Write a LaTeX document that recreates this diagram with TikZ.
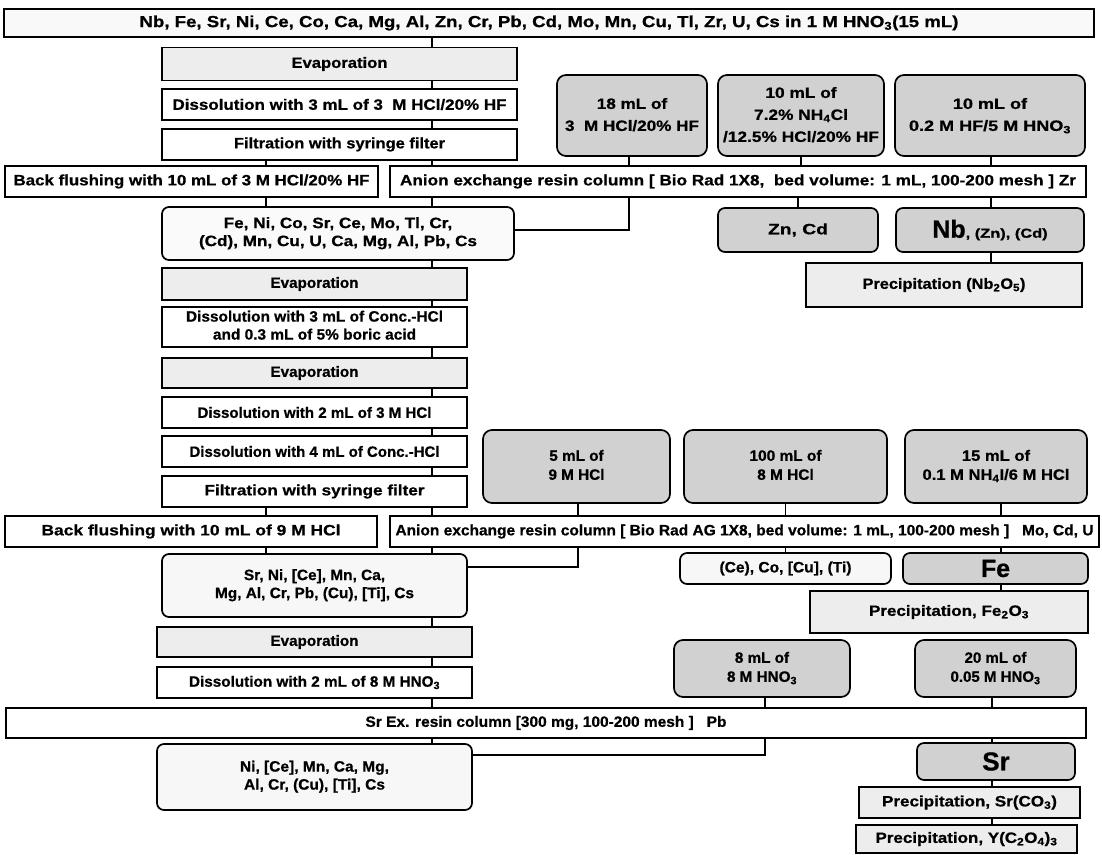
\documentclass[tikz,border=0pt]{standalone}
\usepackage{fontspec}
\setmainfont{Liberation Sans}[BoldFeatures={FakeBold=0.7}]
\usepackage{graphicx}
\newcommand{\fw}[2]{\resizebox{#1pt}{\height}{#2}}
\newcommand{\ml}[1]{\begin{tabular}{@{}c@{}}#1\end{tabular}}
\newcommand{\sbs}[1]{\textsubscript{#1}}
\tikzset{
  bx/.style={draw=black, line width=1.7pt, inner sep=0pt, font=\bfseries\fontsize{15}{18}\selectfont},
  wbox/.style={bx, fill=white},
  evbox/.style={bx, fill=gray!14},
  lbox/.style={bx, fill=gray!5},
  rbox/.style={bx, rounded corners=7pt, fill=gray!6},
  elbox/.style={bx, rounded corners=9pt, fill=gray!36, font=\bfseries\fontsize{15}{22}\selectfont},
  elboxs/.style={bx, rounded corners=9pt, fill=gray!36, font=\bfseries\fontsize{15}{19}\selectfont},
  gbox/.style={bx, rounded corners=7pt, fill=gray!36},
  ln/.style={line width=1.3pt},
  thk/.style={line width=2.3pt}
}
\begin{document}
\begin{tikzpicture}[x=1pt,y=-1pt]
\useasboundingbox (0,0) rectangle (1102,854);
% ---- column coordinates
\coordinate (cA) at (432,0);
\coordinate (cB) at (266,0);
% ---- part 1
\node[lbox, minimum width=1090, minimum height=28, font=\bfseries\fontsize{16}{18}\selectfont] (top) at (549,23)
  {\fw{819}{Nb, Fe, Sr, Ni, Ce, Co, Ca, Mg, Al, Zn, Cr, Pb, Cd, Mo, Mn, Cu, Tl, Zr, U, Cs in 1 M HNO\sbs{3}(15 mL)}};
\node[evbox, minimum width=355, minimum height=33] (ev1) at (339.5,64) {\fw{96}{Evaporation}};
\node[wbox, minimum width=355, minimum height=31] (dis1) at (339.5,104.5) {\fw{334}{Dissolution with 3 mL of 3\ \ M HCl/20\% HF}};
\node[wbox, minimum width=355, minimum height=31] (fil1) at (339.5,144.5) {\fw{211}{Filtration with syringe filter}};
\node[wbox, minimum width=373, minimum height=31] (bf1) at (191.5,181.5) {\fw{356}{Back flushing with 10 mL of 3 M HCl/20\% HF}};
\node[wbox, minimum width=696, minimum height=31] (an1) at (738,181.5) {\fw{676}{Anion exchange resin column [ Bio Rad 1X8,\ \ bed volume: 1 mL, 100-200 mesh ] Zr}};
\node[elbox, minimum width=150, minimum height=81] (el1a) at (632,115.5) {\fw{134}{\ml{18 mL of\\3\ \ M HCl/20\% HF}}};
\node[elbox, minimum width=166, minimum height=81] (el1b) at (801,115.5) {\fw{156}{\ml{10 mL of\\7.2\% NH\sbs{4}Cl\\/12.5\% HCl/20\% HF}}};
\node[elbox, minimum width=190, minimum height=81] (el1c) at (990,115.5) {\fw{162}{\ml{10 mL of\\0.2 M HF/5 M HNO\sbs{3}}}};
\node[rbox, fill=gray!4, minimum width=352, minimum height=53] (feni) at (338,233.5) {\fw{278}{\ml{Fe, Ni, Co, Sr, Ce, Mo, Tl, Cr,\\(Cd), Mn, Cu, U, Ca, Mg, Al, Pb, Cs}}};
\node[gbox, minimum width=160, minimum height=44] (zncd) at (798,230) {\fw{60}{Zn, Cd}};
\node[gbox, minimum width=188, minimum height=44] (nb) at (990,230) {{\fontsize{25}{25}\selectfont Nb}\fw{82}{\fontsize{13}{14}\selectfont , (Zn), (Cd)}};
\node[evbox, minimum width=276, minimum height=44] (pnb) at (944,285) {\fw{163}{Precipitation (Nb\sbs{2}O\sbs{5})}};
% ---- part 2
\node[evbox, minimum width=305, minimum height=32] (ev2) at (314.5,284) {\fw{88}{Evaporation}};
\node[wbox, minimum width=305, minimum height=40] (dis2) at (314.5,327) {\fw{257}{\ml{Dissolution with 3 mL of Conc.-HCl\\and 0.3 mL of 5\% boric acid}}};
\node[evbox, minimum width=305, minimum height=30] (ev3) at (314.5,373) {\fw{88}{Evaporation}};
\node[wbox, minimum width=305, minimum height=31] (dis3) at (314.5,412.5) {\fw{234}{Dissolution with 2 mL of 3 M HCl}};
\node[wbox, minimum width=305, minimum height=31] (dis4) at (314.5,451.5) {\fw{250}{Dissolution with 4 mL of Conc.-HCl}};
\node[wbox, minimum width=305, minimum height=31] (fil2) at (314.5,491.5) {\fw{220}{Filtration with syringe filter}};
\node[wbox, minimum width=372, minimum height=31] (bf2) at (191,531.5) {\fw{299}{Back flushing with 10 mL of 9 M HCl}};
\node[wbox, minimum width=709, minimum height=31] (an2) at (744.5,531.5) {\fw{698}{Anion exchange resin column [ Bio Rad AG 1X8, bed volume: 1 mL, 100-200 mesh ]\ \ \ Mo, Cd, U}};
\node[elboxs, minimum width=187, minimum height=73] (el2a) at (576.5,466.5) {\fw{56}{\ml{5 mL of\\9 M HCl}}};
\node[elboxs, minimum width=203, minimum height=73] (el2b) at (785.5,466.5) {\fw{72}{\ml{100 mL of\\8 M HCl}}};
\node[elboxs, minimum width=182, minimum height=73] (el2c) at (996,466.5) {\fw{147}{\ml{15 mL of\\0.1 M NH\sbs{4}I/6 M HCl}}};
\node[rbox, minimum width=305, minimum height=63] (srni) at (314.5,585.5) {\fw{199}{\ml{Sr, Ni, [Ce], Mn, Ca,\\Mg, Al, Cr, Pb, (Cu), [Ti], Cs}}};
\node[rbox, minimum width=211, minimum height=31] (cecu) at (785.5,568.5) {\fw{132}{(Ce), Co, [Cu], (Ti)}};
\node[gbox, minimum width=185, minimum height=31] (fe) at (995.5,568.5) {{\fontsize{25}{25}\selectfont Fe}};
\node[evbox, minimum width=278, minimum height=42] (pfe) at (949,612) {\fw{160}{Precipitation, Fe\sbs{2}O\sbs{3}}};
% ---- part 3
\node[evbox, minimum width=315, minimum height=30] (ev4) at (314.5,642) {\fw{88}{Evaporation}};
\node[wbox, minimum width=315, minimum height=31] (dis5) at (314.5,682.5) {\fw{251}{Dissolution with 2 mL of 8 M HNO\sbs{3}}};
\node[wbox, minimum width=1080, minimum height=30] (srcol) at (546,723) {\fw{361}{Sr Ex. resin column [300 mg, 100-200 mesh ]\ \ \ Pb}};
\node[elboxs, minimum width=176, minimum height=57] (el3a) at (762,668.5) {\fw{70}{\ml{8 mL of\\8 M HNO\sbs{3}}}};
\node[elboxs, minimum width=161, minimum height=57] (el3b) at (995.5,668.5) {\fw{90}{\ml{20 mL of\\0.05 M HNO\sbs{3}}}};
\node[rbox, minimum width=315, minimum height=66] (nice) at (314.5,777) {\fw{149}{\ml{Ni, [Ce], Mn, Ca, Mg,\\Al, Cr, (Cu), [Ti], Cs}}};
\node[gbox, minimum width=158, minimum height=37] (sr) at (996,761.5) {{\fontsize{26}{26}\selectfont Sr}};
\node[evbox, minimum width=221, minimum height=31] (psr) at (969.5,802.5) {\fw{175}{Precipitation, Sr(CO\sbs{3})}};
\node[evbox, minimum width=221, minimum height=28] (py) at (966.5,839) {\fw{182}{Precipitation, Y(C\sbs{2}O\sbs{4})\sbs{3}}};
% ---- connectors part 1
\draw[ln] (top.south -| cA) -- (ev1.north -| cA);
\draw[ln] (ev1.south -| cA) -- (dis1.north -| cA);
\draw[ln] (dis1.south -| cA) -- (fil1.north -| cA);
\draw[ln] (fil1.south -| cB) -- (bf1.north -| cB);
\draw[ln] (fil1.south -| cA) -- (an1.north -| cA);
\draw[ln] (el1a.south -| 629,0) -- (an1.north -| 629,0);
\draw[ln] (el1b.south) -- (an1.north -| el1b.south);
\draw[ln] (el1c.south -| 991,0) -- (an1.north -| 991,0);
\draw[ln] (bf1.south -| cB) -- (feni.north -| cB);
\draw[ln] (an1.south -| cA) -- (feni.north -| cA);
\draw[ln] (an1.south -| 629,0) -- (629,230) -- (feni.east |- 0,230);
\draw[ln] (an1.south -| zncd.north) -- (zncd.north);
\draw[ln] (an1.south -| 991,0) -- (nb.north -| 991,0);
\draw[ln] (nb.south -| 991,0) -- (pnb.north -| 991,0);
% ---- connectors part 2
\draw[ln] (feni.south -| cA) -- (ev2.north -| cA);
\draw[ln] (ev2.south -| cA) -- (dis2.north -| cA);
\draw[ln] (dis2.south -| cA) -- (ev3.north -| cA);
\draw[ln] (ev3.south -| cA) -- (dis3.north -| cA);
\draw[ln] (dis3.south -| cA) -- (dis4.north -| cA);
\draw[ln] (dis4.south -| cA) -- (fil2.north -| cA);
\draw[ln] (fil2.south -| cB) -- (bf2.north -| cB);
\draw[ln] (fil2.south -| cA) -- (an2.north -| cA);
\draw[ln] (el2a.south -| 578,0) -- (an2.north -| 578,0);
\draw[ln] (el2b.south) -- (an2.north -| el2b.south);
\draw[ln] (el2c.south -| 1001,0) -- (an2.north -| 1001,0);
\draw[ln] (bf2.south -| cB) -- (srni.north -| cB);
\draw[ln] (an2.south -| cA) -- (srni.north -| cA);
\draw[thk] (an2.south -| 578,0) -- (578,567) -- (srni.east |- 0,567);
\draw[ln] (an2.south -| cecu.north) -- (cecu.north);
\draw[ln] (an2.south -| 1001,0) -- (fe.north -| 1001,0);
\draw[ln] (fe.south -| 1001,0) -- (pfe.north -| 1001,0);
% ---- connectors part 3
\draw[ln] (srni.south -| cA) -- (ev4.north -| cA);
\draw[ln] (ev4.south -| cA) -- (dis5.north -| cA);
\draw[ln] (dis5.south -| cA) -- (srcol.north -| cA);
\draw[ln] (el3a.south -| 765,0) -- (srcol.north -| 765,0);
\draw[ln] (el3b.south -| 992,0) -- (srcol.north -| 992,0);
\draw[ln] (srcol.south -| cA) -- (nice.north -| cA);
\draw[ln] (srcol.south -| 765,0) -- (765,755) -- (nice.east |- 0,755);
\draw[ln] (srcol.south -| 992,0) -- (sr.north -| 992,0);
\draw[ln] (sr.south -| 992,0) -- (psr.north -| 992,0);
\draw[ln] (psr.south -| 992,0) -- (py.north -| 992,0);
\end{tikzpicture}
\end{document}
